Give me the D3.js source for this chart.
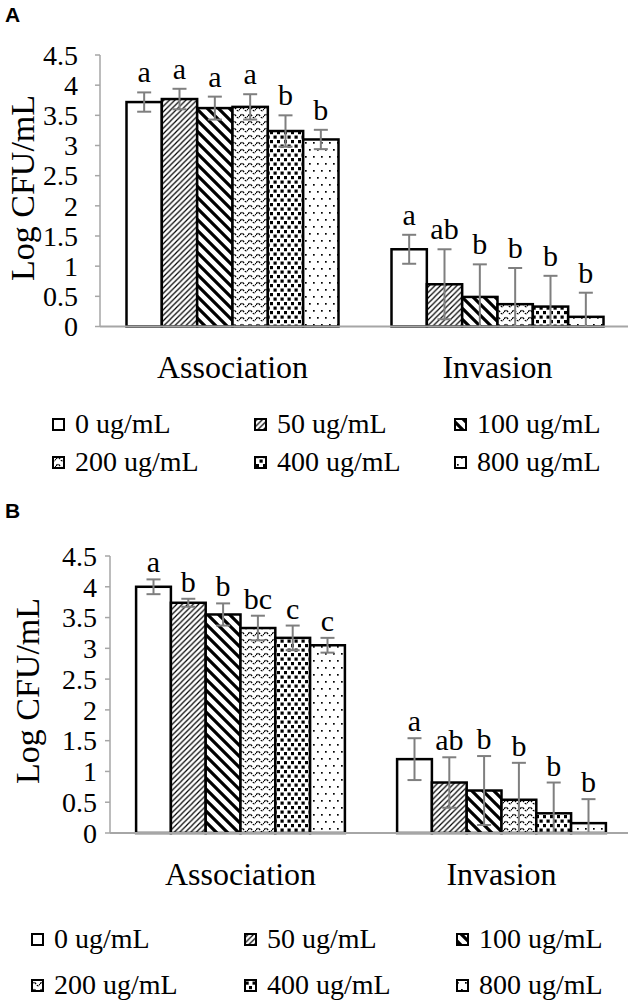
<!DOCTYPE html>
<html>
<head>
<meta charset="utf-8">
<script src="https://cdn.jsdelivr.net/npm/d3@7"></script>
<style>
  html, body { margin: 0; padding: 0; background: #fff; }
  svg { display: block; }
  text { font-family: "Liberation Serif", "Times New Roman", serif; fill: #000; }
</style>
</head>
<body>
<div id="chart"></div>
<script>
// ---------------- data ----------------
const categories = ["Association", "Invasion"];
const series = ["0 ug/mL", "50 ug/mL", "100 ug/mL", "200 ug/mL", "400 ug/mL", "800 ug/mL"];
const yTickValues = [0, 0.5, 1, 1.5, 2, 2.5, 3, 3.5, 4, 4.5];
const yTickLabels = ["0", "0.5", "1", "1.5", "2", "2.5", "3", "3.5", "4", "4.5"];

// Panel A
const assocA = [3.72, 3.77, 3.62, 3.64, 3.24, 3.10];
const assocAErr = [0.16, 0.17, 0.19, 0.21, 0.26, 0.16];
const invA = [1.28, 0.70, 0.49, 0.37, 0.33, 0.16];
const invAErr = [0.24, 0.58, 0.54, 0.60, 0.51, 0.40];
const lettersAssocA = ["a", "a", "a", "a", "b", "b"];
const lettersInvA = ["a", "ab", "b", "b", "b", "b"];

// Panel B
const assocB = [4.00, 3.74, 3.55, 3.33, 3.17, 3.05];
const assocBErr = [0.12, 0.065, 0.18, 0.20, 0.20, 0.12];
const invB = [1.20, 0.82, 0.69, 0.54, 0.32, 0.16];
const invBErr = [0.34, 0.41, 0.56, 0.60, 0.50, 0.39];
const lettersAssocB = ["a", "b", "b", "bc", "c", "c"];
const lettersInvB = ["a", "ab", "b", "b", "b", "b"];

const yAxisTitle = "Log CFU/mL";

// ---------------- drawing ----------------
const W = 633, H = 1006;
const svg = d3.select("#chart").append("svg").attr("width", W).attr("height", H);
svg.append("rect").attr("width", W).attr("height", H).attr("fill", "#fff");

// patterns
const defs = svg.append("defs");
function pat(id, w, h) {
  return defs.append("pattern").attr("id", id).attr("patternUnits", "userSpaceOnUse")
    .attr("width", w).attr("height", h);
}
// 0: empty
pat("p0", 4, 4).append("rect").attr("width", 4).attr("height", 4).attr("fill", "#fff");
// 50: thin upward diagonal
{
  const p = pat("p1", 5.5, 5.5);
  p.append("rect").attr("width", 5.5).attr("height", 5.5).attr("fill", "#fff");
  p.append("path").attr("d", "M-1,1 L1,-1 M0,5.5 L5.5,0 M4.5,6.5 L6.5,4.5")
    .attr("stroke", "#000").attr("stroke-width", 1.2);
}
// 100: thick downward diagonal
{
  const p = pat("p2", 11, 11);
  p.append("rect").attr("width", 11).attr("height", 11).attr("fill", "#fff");
  p.append("path").attr("d", "M-1,-1 L12,12 M-6.5,4.5 L6.5,17.5 M4.5,-6.5 L17.5,6.5")
    .attr("stroke", "#000").attr("stroke-width", 3.2);
}
// 200: wave
{
  const p = pat("p3", 8, 7);
  p.append("rect").attr("width", 8).attr("height", 7).attr("fill", "#fff");
  p.append("path").attr("d", "M0,4 Q2,0.5 4,4 T8,4")
    .attr("fill", "none").attr("stroke", "#000").attr("stroke-width", 1.3)
    .attr("stroke-dasharray", "2.2,1");
}
// 400: staggered squares
{
  const p = pat("p4", 7, 9);
  p.append("rect").attr("width", 7).attr("height", 9).attr("fill", "#fff");
  p.append("rect").attr("x", 0.5).attr("y", 0.5).attr("width", 3.2).attr("height", 3.2).attr("fill", "#000");
  p.append("rect").attr("x", 4).attr("y", 5).attr("width", 3.2).attr("height", 3.2).attr("fill", "#000");
}
// 800: sparse dots
{
  const p = pat("p5", 8, 14);
  p.append("rect").attr("width", 8).attr("height", 14).attr("fill", "#fff");
  p.append("rect").attr("x", 1).attr("y", 2).attr("width", 1.7).attr("height", 1.7).attr("fill", "#000");
  p.append("rect").attr("x", 5).attr("y", 9).attr("width", 1.7).attr("height", 1.7).attr("fill", "#000");
}
const patIds = ["p0", "p1", "p2", "p3", "p4", "p5"];

function drawPanel(cfg) {
  const g = svg.append("g");
  const y = d3.scaleLinear().domain([0, 4.5]).range([cfg.y0, cfg.y1]);
  const x0 = d3.scaleBand().domain(categories).range([cfg.xL, cfg.xR])
    .paddingInner(0.2).paddingOuter(0.1);
  const x1 = d3.scaleBand().domain(series).range([0, x0.bandwidth()]);

  // panel letter
  g.append("text").attr("x", 5).attr("y", cfg.tagY).text(cfg.tag)
    .style("font-family", "'Liberation Sans', Arial, sans-serif")
    .style("font-weight", "bold").style("font-size", "21px");

  // y axis line and ticks
  g.append("line").attr("x1", cfg.xL).attr("x2", cfg.xL)
    .attr("y1", y(0)).attr("y2", y(4.5)).attr("stroke", "#a6a6a6").attr("stroke-width", 1.5);
  g.selectAll(".yt").data(yTickValues).enter().append("line")
    .attr("x1", cfg.xL - 5).attr("x2", cfg.xL)
    .attr("y1", d => y(d)).attr("y2", d => y(d))
    .attr("stroke", "#a6a6a6").attr("stroke-width", 1.5);
  g.selectAll(".ytl").data(yTickValues).enter().append("text")
    .attr("x", cfg.tickLabelX).attr("y", d => y(d)).attr("dy", "0.35em")
    .attr("text-anchor", "end").style("font-size", "28px")
    .text((d, i) => yTickLabels[i]);

  // y title
  g.append("text")
    .attr("transform", `translate(${cfg.titleX},${cfg.titleY}) rotate(-90)`)
    .attr("text-anchor", "middle").attr("dy", "0.35em")
    .style("font-size", "34px").text(yAxisTitle);

  // bars
  const groups = [
    { cat: categories[0], vals: cfg.assoc, errs: cfg.assocErr, lets: cfg.assocLet },
    { cat: categories[1], vals: cfg.inv, errs: cfg.invErr, lets: cfg.invLet }
  ];
  groups.forEach(grp => {
    const gx = x0(grp.cat);
    const rows = series.map((s, i) => ({ s, i, v: grp.vals[i], e: grp.errs[i], l: grp.lets[i] }));
    g.selectAll(null).data(rows).enter().append("rect")
      .attr("x", d => gx + x1(d.s)).attr("width", x1.bandwidth())
      .attr("y", d => y(d.v)).attr("height", d => y(0) - y(d.v))
      .attr("fill", d => `url(#${patIds[d.i]})`)
      .attr("stroke", "#000").attr("stroke-width", 2.5);
    // error bars
    const cap = 7;
    rows.forEach(d => {
      const cx = gx + x1(d.s) + x1.bandwidth() / 2;
      const top = d.v + d.e, bot = Math.max(0, d.v - d.e);
      g.append("line").attr("x1", cx).attr("x2", cx).attr("y1", y(top)).attr("y2", y(bot))
        .attr("stroke", "#7f7f7f").attr("stroke-width", 2);
      g.append("line").attr("x1", cx - cap).attr("x2", cx + cap).attr("y1", y(top)).attr("y2", y(top))
        .attr("stroke", "#7f7f7f").attr("stroke-width", 2);
      if (d.v - d.e > 0) {
        g.append("line").attr("x1", cx - cap).attr("x2", cx + cap).attr("y1", y(bot)).attr("y2", y(bot))
          .attr("stroke", "#7f7f7f").attr("stroke-width", 2);
      }
      g.append("text").attr("x", cx).attr("y", y(top) - cfg.letGap)
        .attr("text-anchor", "middle").style("font-size", "30px").text(d.l);
    });
    // category label
    g.append("text").attr("x", gx + x0.bandwidth() / 2).attr("y", cfg.catY)
      .attr("text-anchor", "middle").style("font-size", "32px").text(grp.cat);
  });

  // x axis line
  g.append("line").attr("x1", cfg.xL).attr("x2", cfg.xAxisEnd)
    .attr("y1", y(0)).attr("y2", y(0)).attr("stroke", "#a6a6a6").attr("stroke-width", 2);

  // legend
  series.forEach((s, i) => {
    const col = i % 3, row = Math.floor(i / 3);
    const lx = cfg.legCols[col], ly = cfg.legRows[row];
    g.append("rect").attr("x", lx).attr("y", ly - 14).attr("width", 11).attr("height", 11)
      .attr("fill", `url(#${patIds[i]})`).attr("stroke", "#000").attr("stroke-width", 2);
    g.append("text").attr("x", lx + 22).attr("y", ly).style("font-size", "28px").text(s);
  });
}

drawPanel({
  tag: "A", tagY: 22,
  y0: 326.5, y1: 55, xL: 100, xR: 630, xAxisEnd: 628,
  tickLabelX: 78, titleX: 22, titleY: 188,
  assoc: assocA, assocErr: assocAErr, inv: invA, invErr: invAErr,
  assocLet: lettersAssocA, invLet: lettersInvA, letGap: 10,
  catY: 378, legCols: [53, 255, 455], legRows: [433, 471]
});

drawPanel({
  tag: "B", tagY: 518,
  y0: 833, y1: 556, xL: 110, xR: 632, xAxisEnd: 628,
  tickLabelX: 97, titleX: 27, titleY: 691,
  assoc: assocB, assocErr: assocBErr, inv: invB, invErr: invBErr,
  assocLet: lettersAssocB, invLet: lettersInvB, letGap: 7,
  catY: 885, legCols: [32, 245, 457], legRows: [948, 994]
});
</script>
</body>
</html>
